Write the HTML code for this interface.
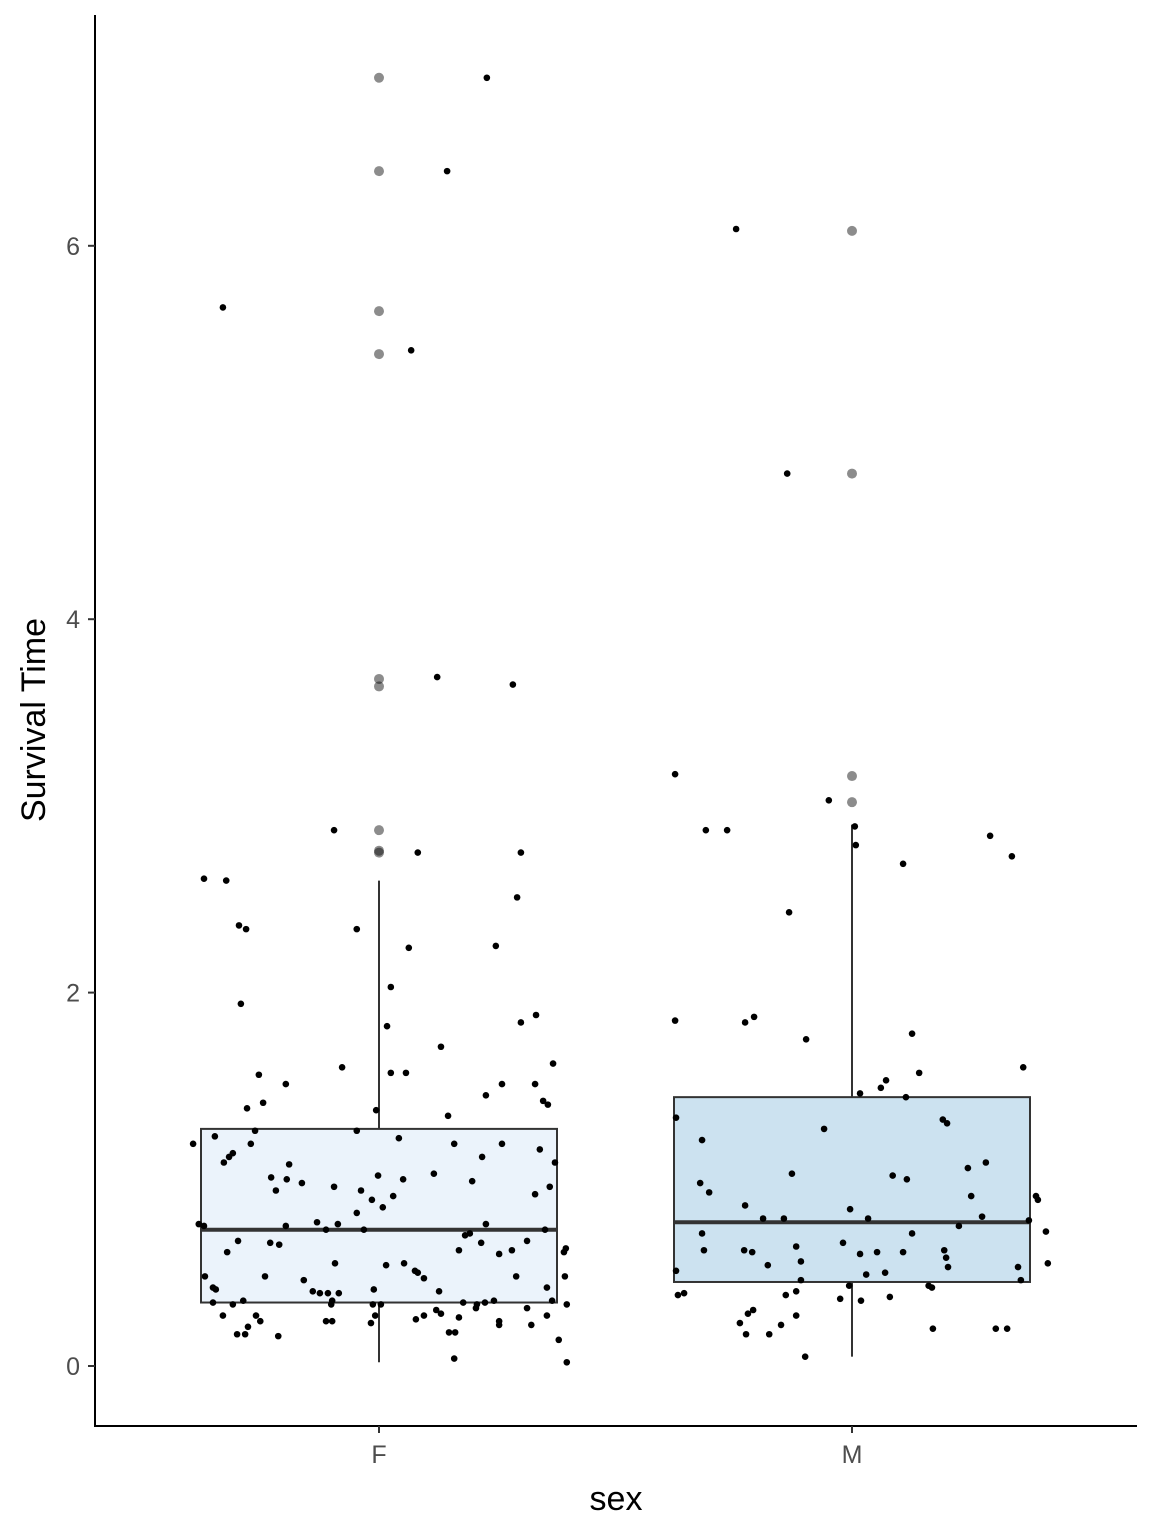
<!DOCTYPE html>
<html><head><meta charset="utf-8"><style>
html,body{margin:0;padding:0;background:#fff;}
svg{display:block;font-family:"Liberation Sans",sans-serif;}
</style></head><body>
<svg id="chart" width="1152" height="1536" viewBox="0 0 1152 1536"></svg>
<script>
const categories = ["F","M"];
const boxQ1 = [0.34, 0.45];
const boxMedian = [0.73, 0.77];
const boxQ3 = [1.27, 1.44];
const whiskerLow = [0.02, 0.05];
const whiskerHigh = [2.6, 2.9];
const boxFills = ["#ebf3fb","#cce2f0"];
const outliersF = [6.9, 6.4, 5.65, 5.42, 3.68, 3.64, 2.87, 2.76, 2.75];
const outliersM = [6.08, 4.78, 3.16, 3.02];
const yTicks = [0, 2, 4, 6];
const jitterF = [0.228,0.144,-0.330,0.068,0.123,0.283,-0.095,0.082,-0.370,-0.323,0.300,-0.296,-0.281,-0.047,0.292,0.247,0.063,0.025,-0.292,0.332,0.300,0.017,0.131,-0.078,0.368,-0.254,0.025,0.057,-0.197,0.260,0.330,0.226,-0.245,0.347,-0.279,-0.006,0.146,0.357,-0.393,-0.262,-0.047,-0.347,0.042,0.159,0.260,-0.271,-0.309,-0.317,0.218,0.340,-0.190,-0.328,0.372,-0.002,0.116,0.051,-0.228,-0.195,-0.163,0.197,-0.095,-0.218,0.361,-0.038,0.030,0.330,-0.015,0.008,-0.047,-0.131,-0.087,-0.197,-0.381,-0.370,0.226,-0.032,0.351,-0.112,0.313,0.182,0.192,0.216,-0.230,-0.211,-0.298,0.281,0.395,0.391,0.169,-0.321,0.254,-0.093,0.015,0.053,0.076,0.082,0.095,-0.368,-0.241,-0.159,0.393,0.290,0.355,-0.351,-0.345,-0.140,-0.125,-0.108,-0.085,-0.011,0.127,-0.099,-0.287,-0.351,-0.309,-0.101,-0.013,0.004,0.178,0.207,0.224,0.243,0.366,0.397,0.205,0.121,0.313,0.095,0.131,0.355,-0.008,-0.260,-0.330,0.169,0.078,-0.017,-0.099,-0.112,-0.251,0.254,0.254,0.322,-0.277,-0.283,-0.300,-0.213,0.148,0.161,0.380,0.159,0.397];
const valuesF = [6.90,6.40,5.67,5.44,3.69,3.65,2.87,2.75,2.61,2.60,2.75,2.36,2.34,2.34,2.51,2.25,2.24,2.03,1.94,1.88,1.84,1.82,1.71,1.60,1.62,1.56,1.57,1.57,1.51,1.51,1.51,1.45,1.41,1.42,1.38,1.37,1.34,1.40,1.19,1.26,1.26,1.23,1.22,1.19,1.19,1.19,1.14,1.12,1.12,1.16,1.08,1.09,1.09,1.02,1.03,1.00,1.01,1.00,0.98,0.99,0.96,0.94,0.96,0.94,0.91,0.92,0.89,0.85,0.82,0.77,0.76,0.75,0.76,0.75,0.76,0.73,0.73,0.73,0.67,0.70,0.71,0.66,0.66,0.65,0.67,0.62,0.63,0.61,0.62,0.61,0.60,0.55,0.54,0.55,0.51,0.50,0.47,0.48,0.48,0.46,0.48,0.48,0.42,0.42,0.41,0.40,0.39,0.39,0.39,0.41,0.40,0.35,0.35,0.34,0.33,0.33,0.33,0.33,0.34,0.33,0.34,0.35,0.35,0.33,0.31,0.30,0.31,0.27,0.28,0.27,0.27,0.27,0.27,0.26,0.25,0.23,0.24,0.24,0.24,0.24,0.22,0.22,0.21,0.17,0.17,0.16,0.18,0.18,0.14,0.04,0.02];
const jitterM = [-0.245,-0.137,-0.374,-0.049,-0.309,-0.264,0.292,0.006,0.008,0.338,0.108,-0.133,-0.374,-0.207,-0.226,-0.097,0.127,0.362,0.142,0.072,0.061,0.017,0.114,-0.372,0.192,0.201,-0.059,-0.317,0.283,0.245,-0.127,0.086,0.116,-0.321,-0.302,0.252,0.389,0.393,-0.226,-0.004,-0.188,-0.144,0.034,0.275,0.374,0.226,-0.317,0.127,0.410,-0.019,-0.118,-0.313,-0.228,-0.211,0.195,0.053,0.108,0.017,0.199,0.203,-0.108,-0.178,0.414,0.351,-0.372,0.070,0.030,-0.108,0.357,0.162,0.169,-0.006,-0.118,-0.368,-0.355,-0.140,0.080,-0.025,0.019,-0.209,-0.220,-0.118,-0.237,-0.150,0.171,0.304,0.328,-0.224,-0.175,-0.099];
const valuesM = [6.09,4.78,3.17,3.03,2.87,2.87,2.84,2.89,2.79,2.73,2.69,2.43,1.85,1.87,1.84,1.75,1.78,1.60,1.57,1.53,1.49,1.46,1.44,1.33,1.32,1.30,1.27,1.21,1.09,1.06,1.03,1.02,1.00,0.98,0.93,0.91,0.91,0.89,0.86,0.84,0.79,0.79,0.79,0.80,0.78,0.75,0.71,0.71,0.72,0.66,0.64,0.62,0.62,0.61,0.62,0.61,0.61,0.60,0.58,0.53,0.56,0.54,0.55,0.53,0.51,0.50,0.49,0.46,0.46,0.43,0.42,0.43,0.40,0.38,0.39,0.38,0.37,0.36,0.35,0.30,0.28,0.27,0.23,0.22,0.20,0.20,0.20,0.17,0.17,0.05];

const NS = "http://www.w3.org/2000/svg";
const svg = document.getElementById("chart");
const yPix = v => 1366 - v * 186.7;
const xPix = i => 379 + i * 473;
const halfW = 178;
function mk(tag, attrs, parent) {
  const e = document.createElementNS(NS, tag);
  for (const k in attrs) e.setAttribute(k, attrs[k]);
  (parent || svg).appendChild(e);
  return e;
}
const outliers = [outliersF, outliersM];
const jit = [jitterF, jitterM];
const vals = [valuesF, valuesM];

categories.forEach((c, i) => {
  const cx = xPix(i);
  const g = mk("g", {});
  
  
  mk("line", {x1: cx, x2: cx, y1: yPix(boxQ3[i]), y2: yPix(whiskerHigh[i]), stroke: "#333", "stroke-width": 2}, g);
  mk("line", {x1: cx, x2: cx, y1: yPix(boxQ1[i]), y2: yPix(whiskerLow[i]), stroke: "#333", "stroke-width": 2}, g);
  mk("rect", {x: cx - halfW, y: yPix(boxQ3[i]), width: 2 * halfW, height: yPix(boxQ1[i]) - yPix(boxQ3[i]), fill: boxFills[i], stroke: "#333", "stroke-width": 2}, g);
  mk("line", {x1: cx - halfW, x2: cx + halfW, y1: yPix(boxMedian[i]), y2: yPix(boxMedian[i]), stroke: "#333", "stroke-width": 4}, g);
  outliers[i].forEach(v => {
    const o = mk("circle", {cx: cx, cy: yPix(v), r: 5, fill: "rgba(0,0,0,0.45)"});
    
    
  });
});
categories.forEach((c, i) => {
  jit[i].forEach((j, k) => {
    const p = mk("circle", {cx: xPix(i + j), cy: yPix(vals[i][k]), r: 3.3, fill: "#000"});
    
    
  });
});

// axes
const ya = mk("line", {x1: 95, x2: 95, y1: 15, y2: 1427, stroke: "#000", "stroke-width": 2});


const xa = mk("line", {x1: 94, x2: 1137, y1: 1426, y2: 1426, stroke: "#000", "stroke-width": 2});


yTicks.forEach(t => {
  const tk = mk("line", {x1: 88, x2: 95, y1: yPix(t), y2: yPix(t), stroke: "#333", "stroke-width": 2});
  
  
  const lb = mk("text", {x: 80, y: yPix(t) + 9, "text-anchor": "end", "font-size": 25, fill: "#4d4d4d"});
  lb.textContent = t;
  
  
});
categories.forEach((c, i) => {
  const tk = mk("line", {x1: xPix(i), x2: xPix(i), y1: 1426, y2: 1433, stroke: "#333", "stroke-width": 2});
  
  
  const lb = mk("text", {x: xPix(i), y: 1463, "text-anchor": "middle", "font-size": 25, fill: "#4d4d4d"});
  lb.textContent = c;
  
  
});
const xt = mk("text", {x: 616, y: 1510, "text-anchor": "middle", "font-size": 34, fill: "#000"});
xt.textContent = "sex";


const yt = mk("text", {x: 0, y: 0, "text-anchor": "middle", "font-size": 34, fill: "#000", transform: "translate(45,720) rotate(-90)"});
yt.textContent = "Survival Time";


</script>
</body></html>
